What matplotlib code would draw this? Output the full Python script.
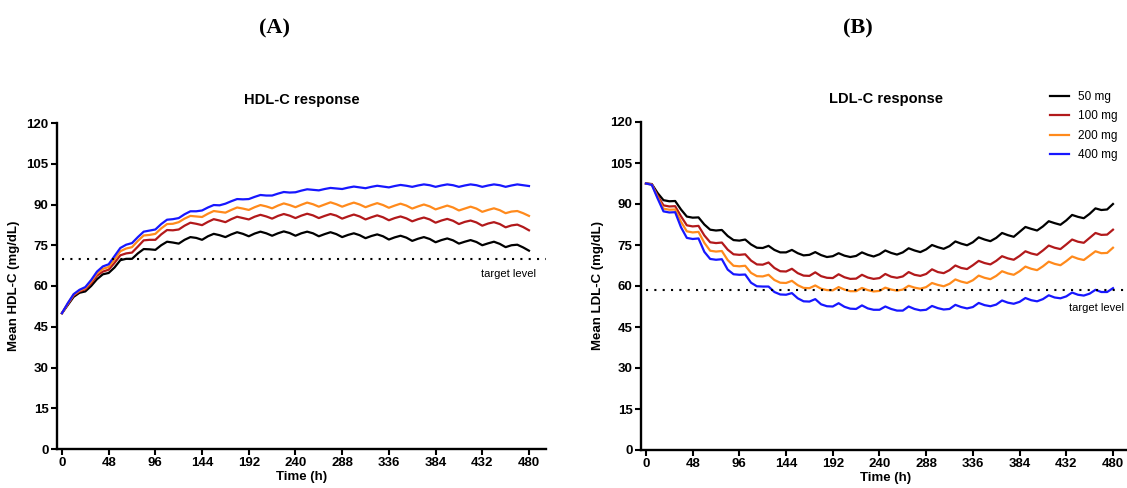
import matplotlib
matplotlib.use('Agg')
import matplotlib.pyplot as plt

plt.rcParams['font.family'] = ['Liberation Sans', 'DejaVu Sans']

# sampling grid (h), one point every 6 h
hours = list(range(0, 481, 6))

doses = ['50 mg', '100 mg', '200 mg', '400 mg']
colors = ['#000000', '#B2191B', '#FF8A1C', '#1717FF']

hdl_target = 70.0
ldl_target = 58.5

hdl_50 = [50.0, 53.0, 56.0, 57.5,
          58.0, 60.0, 62.5, 64.3,
          64.8, 66.8, 69.5, 70.0,
          70.0, 72.0, 73.6, 73.5,
          73.3, 75.0, 76.3, 76.0,
          75.6, 77.0, 78.0, 77.7,
          77.0, 78.3, 79.2, 78.7,
          78.0, 79.0, 79.8, 79.2,
          78.3, 79.3, 80.0, 79.4,
          78.5, 79.4, 80.1, 79.5,
          78.5, 79.4, 80.0, 79.4,
          78.3, 79.1, 79.8, 79.1,
          78.0, 78.8, 79.4, 78.7,
          77.6, 78.4, 79.0, 78.3,
          77.1, 77.9, 78.5, 77.8,
          76.6, 77.4, 78.0, 77.3,
          76.1, 76.9, 77.5, 76.8,
          75.6, 76.3, 76.9, 76.2,
          75.0, 75.7, 76.3, 75.5,
          74.3, 75.0, 75.2, 74.2,
          73.0]
hdl_100 = [50.0, 53.3, 56.5, 58.0,
           58.8, 61.0, 63.8, 65.3,
           66.0, 68.5, 71.3, 72.0,
           72.3, 74.5, 76.8, 77.0,
           77.0, 79.0, 80.6, 80.5,
           80.8, 82.2, 83.3, 82.9,
           82.4, 83.6, 84.6, 84.1,
           83.5, 84.6, 85.5, 85.0,
           84.5, 85.5, 86.2, 85.6,
           84.8, 85.8, 86.5, 85.9,
           85.0, 85.9, 86.6, 86.0,
           85.0, 85.8, 86.5, 85.9,
           84.8, 85.6, 86.3, 85.6,
           84.5, 85.3, 86.0, 85.3,
           84.2, 85.0, 85.6, 84.9,
           83.8, 84.6, 85.2, 84.5,
           83.3, 84.1, 84.7, 84.0,
           82.8, 83.6, 84.1, 83.4,
           82.2, 83.0, 83.5, 82.8,
           81.6, 82.3, 82.6, 81.7,
           80.5]
hdl_200 = [50.0, 53.5, 56.8, 58.3,
           59.2, 61.6, 64.6, 66.3,
           67.0, 69.8, 72.8, 73.8,
           74.3, 76.6, 78.6, 78.8,
           79.2, 81.2, 82.8, 82.9,
           83.5, 84.8, 85.8, 85.6,
           85.4, 86.6, 87.6, 87.3,
           87.0, 88.0, 88.9, 88.5,
           88.0, 89.0, 89.8, 89.3,
           88.6, 89.6, 90.4, 89.8,
           89.0, 89.9, 90.7, 90.1,
           89.2, 90.0, 90.8, 90.1,
           89.2, 90.0, 90.7, 90.0,
           89.0, 89.8, 90.5, 89.8,
           88.8, 89.6, 90.3, 89.6,
           88.5, 89.3, 90.0, 89.3,
           88.2, 88.9, 89.6, 88.9,
           87.8, 88.5, 89.2, 88.5,
           87.3, 88.0, 88.6, 87.9,
           86.8, 87.4, 87.6, 86.8,
           85.8]
hdl_400 = [50.0, 53.7, 57.0, 58.6,
           59.6, 62.2, 65.3, 67.2,
           68.0, 71.0, 74.0, 75.2,
           75.8, 78.0, 80.0, 80.4,
           80.8, 82.8, 84.4, 84.6,
           85.0, 86.4, 87.5, 87.5,
           87.8, 88.9, 89.8, 89.7,
           90.3, 91.2, 92.0, 91.9,
           92.0, 92.8, 93.5, 93.3,
           93.3, 94.0, 94.6, 94.4,
           94.5, 95.1, 95.6, 95.4,
           95.2, 95.7, 96.1, 95.9,
           95.7, 96.2, 96.6, 96.3,
           96.0, 96.5, 96.9, 96.6,
           96.3, 96.8, 97.2, 96.9,
           96.5, 97.0, 97.4, 97.1,
           96.5, 97.0, 97.4, 97.1,
           96.5, 97.0, 97.4, 97.1,
           96.5, 97.0, 97.4, 97.1,
           96.5, 97.0, 97.4, 97.1,
           96.8]

ldl_50 = [97.5, 97.3, 94.0, 91.4,
          91.0, 91.1, 88.0, 85.4,
          85.0, 85.1, 82.5, 80.6,
          80.3, 80.5, 78.3, 76.8,
          76.6, 77.0, 75.2, 74.0,
          73.9, 74.7, 73.2, 72.3,
          72.3, 73.2, 72.0, 71.2,
          71.4, 72.4, 71.3, 70.6,
          70.9, 72.0, 71.1, 70.6,
          71.0, 72.3, 71.4, 70.8,
          71.6, 73.0, 72.1, 71.5,
          72.3, 73.8, 73.0, 72.4,
          73.4, 75.0, 74.2, 73.6,
          74.6, 76.3, 75.5, 74.9,
          76.0, 77.8, 77.0, 76.4,
          77.6, 79.4, 78.6, 78.0,
          79.8, 81.6, 80.9, 80.3,
          81.8, 83.7, 83.0, 82.4,
          84.0, 86.0, 85.3, 84.8,
          86.4, 88.4, 87.8, 88.0,
          90.0]
ldl_100 = [97.5, 97.2, 93.0, 89.5,
           89.1, 89.2, 85.5, 82.2,
           81.8, 82.0, 78.5, 76.0,
           75.7, 75.9, 73.3, 71.6,
           71.4, 71.6, 69.3, 67.9,
           67.8, 68.6, 66.6, 65.4,
           65.3, 66.3, 64.7, 63.8,
           63.7, 65.0, 63.6, 63.0,
           62.9, 64.3, 63.2, 62.6,
           62.7, 64.1, 63.1, 62.6,
           62.9, 64.4, 63.4, 63.0,
           63.5, 65.1, 64.1, 63.7,
           64.4, 66.1, 65.1, 64.7,
           65.8, 67.5, 66.6, 66.2,
           67.6, 69.2, 68.4, 67.9,
           69.2, 70.9, 70.1, 69.6,
           71.0, 72.7, 71.9, 71.4,
           73.0, 74.8, 74.0, 73.5,
           75.2, 77.0, 76.2, 75.8,
           77.6, 79.4, 78.7, 78.8,
           80.6]
ldl_200 = [97.5, 97.1, 92.5, 88.3,
           87.9, 88.0, 83.5, 80.0,
           79.6, 79.8, 75.8, 72.9,
           72.6, 72.8, 69.5, 67.4,
           67.2, 67.4, 64.8, 63.6,
           63.5, 64.1, 62.2, 61.2,
           61.1, 61.9, 60.3, 59.3,
           59.2, 60.2, 59.0, 58.5,
           58.4, 59.6, 58.7, 58.1,
           58.1, 59.3, 58.5, 58.0,
           58.2, 59.4, 58.7, 58.3,
           58.7, 60.1, 59.4, 59.0,
           59.6, 61.1, 60.4, 59.9,
           60.8, 62.4, 61.6, 61.1,
           62.1, 63.8, 63.0, 62.5,
           63.7, 65.4, 64.6, 64.1,
           65.4, 67.1, 66.3, 65.8,
           67.2, 68.9, 68.1, 67.6,
           69.1, 70.8, 70.0, 69.5,
           71.1, 72.7, 72.0, 72.1,
           74.0]
ldl_400 = [97.5, 97.0, 92.0, 87.3,
           86.9, 87.0, 81.5, 77.6,
           77.2, 77.4, 72.5, 69.9,
           69.6, 69.8, 66.0, 64.3,
           64.1, 64.2, 61.2, 59.9,
           59.8, 59.8, 57.8, 56.9,
           56.8, 57.4, 55.5, 54.4,
           54.3, 55.2, 53.3, 52.6,
           52.5, 53.7, 52.4, 51.7,
           51.6, 52.9, 51.8, 51.3,
           51.3, 52.5, 51.6, 51.0,
           51.0, 52.5, 51.6, 51.1,
           51.3, 52.7, 51.9, 51.4,
           51.6, 53.1, 52.3, 51.8,
           52.3, 53.8, 53.0, 52.6,
           53.2, 54.7, 53.9, 53.5,
           54.2, 55.6, 54.8, 54.4,
           55.2, 56.6, 55.8, 55.5,
           56.2, 57.6, 56.8, 56.5,
           57.2, 58.6, 57.8, 57.8,
           59.2]

hdl = [hdl_50, hdl_100, hdl_200, hdl_400]
ldl = [ldl_50, ldl_100, ldl_200, ldl_400]

W, H = 1127, 488
fig = plt.figure(figsize=(W / 100, H / 100), dpi=100)
ax1 = fig.add_axes([57 / W, 1 - 449 / H, 489 / W, 326 / H])
ax2 = fig.add_axes([641 / W, 1 - 450 / H, 489 / W, 328 / H])

XMIN, XMAX = -5.1, 497.5


def style(ax, ylabel, title):
    ax.set_xlim(XMIN, XMAX)
    ax.set_ylim(0, 120)
    ax.set_xticks(range(0, 481, 48))
    ax.set_yticks(range(0, 121, 15))
    for s in ['top', 'right']:
        ax.spines[s].set_visible(False)
    for s in ['left', 'bottom']:
        ax.spines[s].set_linewidth(1.7)
    ax.tick_params(direction='out', length=4, width=1.5, labelsize=9.5, pad=2)
    for lab in ax.get_xticklabels() + ax.get_yticklabels():
        lab.set_fontweight('bold')
    ax.set_xlabel('Time (h)', fontsize=9.5, fontweight='bold', labelpad=1)
    ax.set_ylabel(ylabel, fontsize=9.5, fontweight='bold', labelpad=5)
    ax.set_title(title, fontsize=10.5, fontweight='bold', pad=14)


for vals, c, lab in zip(hdl, colors, doses):
    ax1.plot(hours, vals, color=c, lw=1.6, label=lab, solid_joinstyle='round')
for vals, c, lab in zip(ldl, colors, doses):
    ax2.plot(hours, vals, color=c, lw=1.6, label=lab, solid_joinstyle='round')

ax1.plot([0, XMAX], [hdl_target, hdl_target], color='black', lw=1.5,
         ls=(0, (1, 3)), clip_on=False)
ax2.plot([0, XMAX], [ldl_target, ldl_target], color='black', lw=1.5,
         ls=(0, (1, 3)), clip_on=False)

style(ax1, 'Mean HDL-C (mg/dL)', 'HDL-C response')
style(ax2, 'Mean LDL-C (mg/dL)', 'LDL-C response')

fig.text(536 / W, 1 - 274 / H, 'target level', ha='right', va='center', fontsize=8)
fig.text(1124 / W, 1 - 308 / H, 'target level', ha='right', va='center', fontsize=8)

fig.text(275 / W, 1 - 28 / H, '(A)', ha='center', va='center', fontsize=16,
         fontweight='bold', family='Liberation Serif')
fig.text(858 / W, 1 - 28 / H, '(B)', ha='center', va='center', fontsize=16,
         fontweight='bold', family='Liberation Serif')

handles, labels = ax2.get_legend_handles_labels()
fig.legend(handles, labels, loc='upper left', bbox_to_anchor=(1050 / W, 1 - 91 / H),
           frameon=False, fontsize=8.5, handlelength=1.6, handletextpad=0.8,
           labelspacing=0.62, borderpad=0, borderaxespad=0)

fig.savefig('out.png', dpi=100)
